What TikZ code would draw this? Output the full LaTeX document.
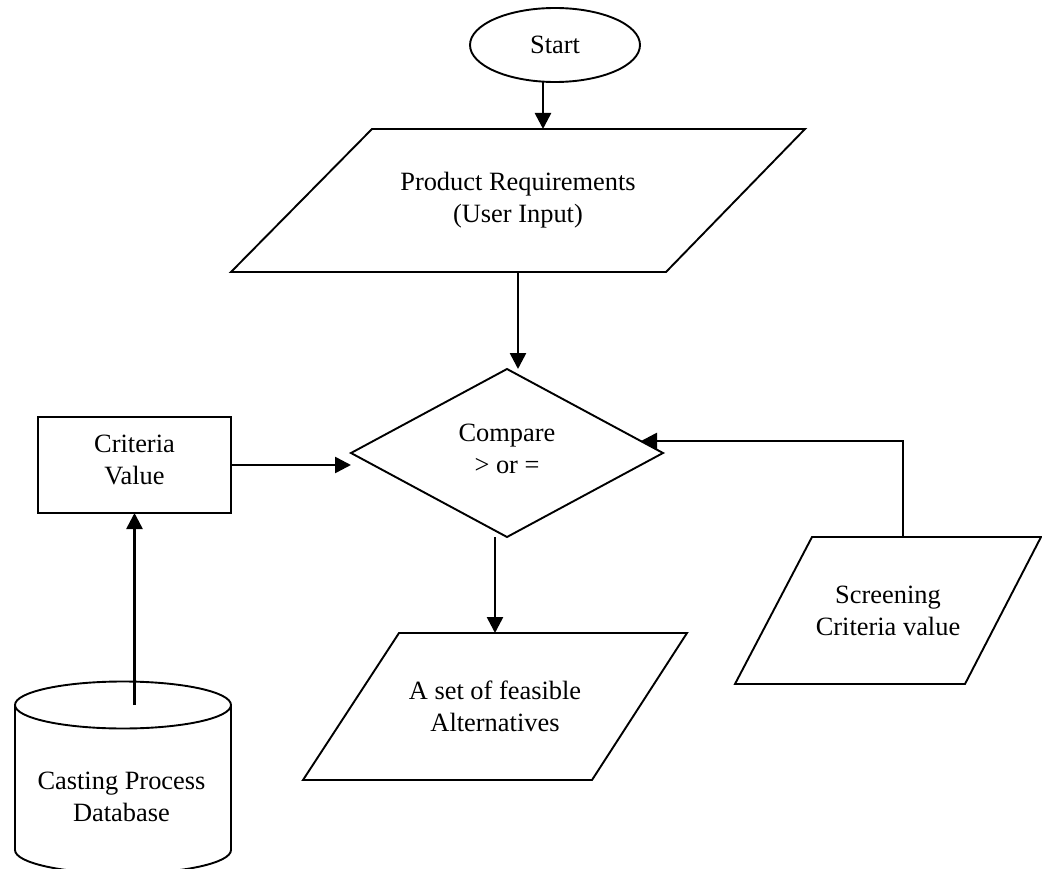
\documentclass[tikz,border=0pt]{standalone}
\usepackage{fontspec}
\setmainfont{Liberation Serif}
\usetikzlibrary{shapes.geometric,arrows.meta,calc}

% draw a slanted (input/output) box round the bounding rectangle of a node
\newcommand{\slantbox}[3]{%
  \draw[outline] ([xshift=#2]#1.north west) -- (#1.north east)
    -- ([xshift=-#3]#1.south east) -- (#1.south west) -- cycle;}

\begin{document}
\begin{tikzpicture}[x=1pt,y=-1pt,
  txt/.style={font=\fontsize{26.4}{32}\selectfont, align=center,
              inner sep=0pt, outer sep=0pt},
  outline/.style={line width=1.9pt, line join=miter},
  arr/.style={line width=2.6pt, -{Triangle[length=16pt,width=16pt]}}]

\useasboundingbox (0,0) rectangle (1042,869);

% start terminal
\node[txt, draw, outline, ellipse, minimum width=170pt, minimum height=74pt]
  (st) at (555,45) {Start};

% product requirements (input)
\node[txt, minimum width=574pt, minimum height=143pt] (pr) at (518,200.5)
  {Product Requirements\\(User Input)};
\slantbox{pr}{141}{139}

% comparison decision
\node[txt, draw, outline, diamond, minimum width=312pt, minimum height=168pt]
  (dm) at (507,453) {};
\node[txt] (dmt) at (507,449) {Compare\\> or =};

% criteria value box
\node[txt, draw, outline, rectangle, minimum width=193pt, minimum height=96pt]
  (cv) at (134.5,465) {};
\node[txt] (cvt) at (134.5,460) {Criteria\\Value};

% casting process database (cylinder)
\draw[outline, fill=white] (15,705) -- (15,850) arc[start angle=180, end angle=360,
  x radius=108, y radius=-23.5] -- (231,705);
\draw[outline] (123,705) ellipse[x radius=108, y radius=23.5];
\node[txt] (db) at (121.5,797) {Casting Process\\Database};
\coordinate (dbtop) at (134.5,705);

% feasible alternatives (output)
\node[txt, minimum width=384pt, minimum height=147pt] (fa) at (495,706.5)
  {A set of feasible\\Alternatives};
\slantbox{fa}{96}{95}

% screening criteria value (input)
\node[txt, minimum width=306pt, minimum height=147pt] (sc) at (888,610.5)
  {Screening\\Criteria value};
\slantbox{sc}{77}{76}

% connectors
\draw[arr] ([xshift=-12pt]st.south) -- ([xshift=25pt]pr.north);
\draw[arr] (pr.south) -- (pr.south |- dm.north);
\draw[arr] (cv.east) -- (cv.east -| dm.west);
\draw[arr] (dbtop) -- (cv.south);
\coordinate (dmout) at (fa.north |- dm.south);
\draw[arr] (dmout) -- (fa.north);
\coordinate (fbk) at ($(dm.east)+(-22,-12)$);
\draw[arr] ([xshift=15pt]sc.north) |- (fbk);
\end{tikzpicture}
\end{document}
